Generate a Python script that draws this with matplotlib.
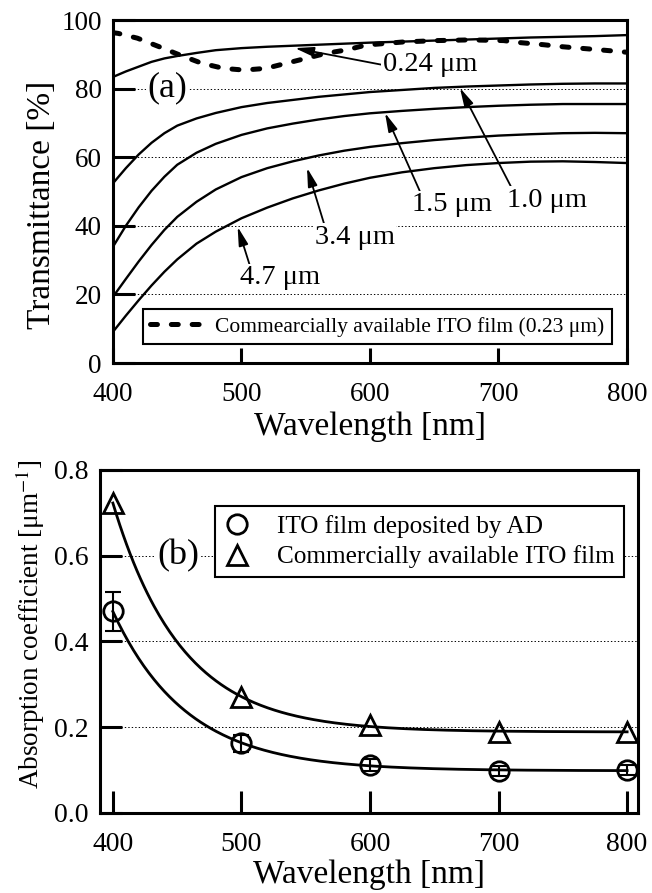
import numpy as np
import matplotlib
matplotlib.use("Agg")
from matplotlib import pyplot as plt

plt.rcParams['font.family'] = ['Liberation Serif', 'DejaVu Serif']
plt.rcParams['mathtext.fontset'] = 'stix'
plt.rcParams['lines.scale_dashes'] = False

# (a) transmittance spectra of AD films
wavelength = [400, 410, 420, 430, 440, 450, 465, 480, 500, 520, 540, 560, 580,
              600, 625, 650, 675, 700, 725, 750, 775, 800]
t_024 = [83.4, 85.0, 86.4, 87.8, 88.8, 89.5, 90.4, 91.2, 91.8, 92.2, 92.5, 92.8, 93.1,
         93.4, 93.7, 94.0, 94.3, 94.6, 94.9, 95.1, 95.3, 95.6]
t_10 = [52.4, 56.8, 60.8, 64.2, 67.0, 69.2, 71.3, 72.9, 74.6, 75.8, 76.7, 77.6, 78.3,
        79.0, 79.6, 80.2, 80.6, 80.9, 81.2, 81.4, 81.5, 81.5]
t_15 = [33.9, 40.0, 45.4, 50.2, 54.3, 57.8, 61.3, 63.9, 66.5, 68.4, 69.8, 71.0, 72.0,
        72.8, 73.5, 74.1, 74.6, 75.0, 75.3, 75.5, 75.5, 75.5]
t_34 = [19.3, 24.5, 29.6, 34.4, 38.8, 42.6, 47.0, 50.6, 54.2, 56.8, 58.8, 60.5, 61.9,
        63.0, 64.1, 65.0, 65.7, 66.3, 66.7, 67.0, 67.1, 67.0]
t_47 = [9.1, 13.8, 18.3, 22.6, 26.6, 30.2, 34.8, 38.3, 42.2, 45.3, 48.0, 50.3, 52.3,
        54.0, 55.6, 56.8, 57.7, 58.3, 58.7, 58.8, 58.6, 58.3]

# commercial ITO film (0.23 um)
wl_comm = [400, 404, 419, 436, 452, 469, 486, 502, 519, 535, 550, 566, 582, 597,
           626, 652, 678, 704, 717, 735, 750, 766, 782, 800]
t_comm = [96.3, 96.1, 94.7, 92.2, 89.8, 87.4, 85.9, 85.4, 85.9, 87.4, 88.8, 90.3, 91.3, 92.7,
          93.6, 94.0, 94.2, 94.0, 93.4, 92.8, 92.2, 91.7, 91.2, 90.6]

thickness_labels = ['0.24 \u03bcm', '1.0 \u03bcm', '1.5 \u03bcm', '3.4 \u03bcm', '4.7 \u03bcm']

# (b) absorption coefficient
wl_abs = [400, 500, 600, 700, 800]
alpha_ad = [0.470, 0.163, 0.112, 0.098, 0.100]
alpha_ad_err = [0.046, 0.020, 0.013, 0.012, 0.012]
alpha_comm = [0.723, 0.270, 0.205, 0.189, 0.189]


def fit_decay(x, y):
    # y = a + b*exp(-(x-x0)/tau), best tau by scan, a/b by least squares
    x = np.asarray(x, float)
    y = np.asarray(y, float)
    best = None
    for tau in np.arange(20, 200, 0.5):
        A = np.column_stack([np.ones_like(x), np.exp(-(x - x[0]) / tau)])
        coef = np.linalg.lstsq(A, y, rcond=None)[0]
        r = np.sum((A @ coef - y) ** 2)
        if best is None or r < best[0]:
            best = (r, tau, coef)
    _, tau, (a, b) = best
    xs = np.linspace(x[0], x[-1], 300)
    return xs, a + b * np.exp(-(xs - x[0]) / tau)


def style_axes(ax, xlen, ylen):
    for s in ax.spines.values():
        s.set_linewidth(2.2)
    ax.tick_params(axis='y', direction='in', length=ylen, width=2.2, labelsize=19.5, pad=8,
                   right=False)
    ax.tick_params(axis='x', direction='in', length=xlen, width=2.2, labelsize=19.5, pad=14,
                   top=False)
    ax.yaxis.grid(True, linestyle=(0, (1, 1.5)), color='black', linewidth=0.7)
    ax.set_axisbelow(True)


fig = plt.figure(figsize=(6.52, 8.93), dpi=100)

# ---- (a)
ax1 = fig.add_axes([0.1733, 0.5935, 0.7883, 0.3841])
for t in [t_024, t_10, t_15, t_34, t_47]:
    ax1.plot(wavelength, t, color='black', lw=1.7, zorder=3)
ax1.plot(wl_comm, t_comm, color='black', lw=3.6, dashes=(5, 10), dash_capstyle='round',
         zorder=4, label='Commearcially available ITO film (0.23 \u03bcm)')
ax1.set_xlim(400, 800)
ax1.set_ylim(0, 100)
ax1.set_xticks([400, 500, 600, 700, 800])
ax1.set_yticks([0, 20, 40, 60, 80, 100])
style_axes(ax1, 11, 16)
ax1.set_xlabel('Wavelength [nm]', fontsize=24)
ax1.set_ylabel('Transmittance [%]', fontsize=24)
ax1.xaxis.set_label_coords(0.5, -0.14)
ax1.yaxis.set_label_coords(-0.108, 0.46)

box = dict(facecolor='white', edgecolor='none', pad=1)
ax1.text(427, 80.2, '(a)', fontsize=26, ha='left', va='center', bbox=box, zorder=5)

# text position, arrow tip, arrow start on text box
notes = [((610, 86.9), (541.6, 91.8), (0.0, 0.5)),
         ((707, 47.5), (670, 80.2), (0.05, 1.0)),
         ((633, 46.1), (611.7, 72.9), (0.1, 1.0)),
         ((557, 36.7), (551, 56.9), (0.12, 1.0)),
         ((499, 24.8), (497, 39.7), (0.12, 1.0))]
for lab, (xy_t, xy_a, rp) in zip(thickness_labels, notes):
    ax1.annotate(lab, xy=xy_a, xytext=xy_t, fontsize=20.5, ha='left', va='center',
                 bbox=box, zorder=6,
                 arrowprops=dict(arrowstyle='-|>,head_length=0.55,head_width=0.14',
                                 color='black', lw=1.3, relpos=rp,
                                 shrinkA=0, shrinkB=0))

leg1 = ax1.legend(loc='lower left', bbox_to_anchor=(0.058, 0.055), fontsize=15.5,
                  handlelength=2.5, handletextpad=0.5, borderpad=0.35,
                  fancybox=False, framealpha=1, edgecolor='black', borderaxespad=0)
leg1.get_frame().set_linewidth(1.5)

# ---- (b)
ax2 = fig.add_axes([0.1534, 0.0896, 0.8252, 0.3841])
xs, ys = fit_decay(wl_abs, alpha_ad)
ax2.plot(xs, ys, color='black', lw=2, zorder=2)
xs, ys = fit_decay(wl_abs, alpha_comm)
ax2.plot(xs, ys, color='black', lw=2, zorder=2)
ax2.errorbar(wl_abs, alpha_ad, yerr=alpha_ad_err, fmt='none', ecolor='black',
             elinewidth=1.5, capsize=6, capthick=1.5, zorder=3)
ax2.plot(wl_abs, alpha_ad, 'o', ms=14, mfc='none', mec='black', mew=2, zorder=4,
         label='ITO film deposited by AD')
ax2.plot(wl_abs, alpha_comm, '^', ms=14, mfc='none', mec='black', mew=2, zorder=4,
         label='Commercially available ITO film')
ax2.set_xlim(390, 808.5)
ax2.set_ylim(0, 0.8)
ax2.set_xticks([400, 500, 600, 700, 800])
ax2.set_yticks([0.0, 0.2, 0.4, 0.6, 0.8])
ax2.yaxis.set_major_formatter(matplotlib.ticker.FormatStrFormatter('%.1f'))
style_axes(ax2, 16, 16)
ax2.tick_params(axis='both', labelsize=20)
ax2.tick_params(axis='y', pad=8)
ax2.set_xlabel('Wavelength [nm]', fontsize=24)
ax2.set_ylabel('Absorption coefficient [\u03bcm$^{-1}$]', fontsize=19.5)
ax2.xaxis.set_label_coords(0.5, -0.135)
ax2.yaxis.set_label_coords(-0.098, 0.55)
ax2.text(435, 0.6, '(b)', fontsize=26, ha='left', va='center', bbox=box, zorder=5)

leg2 = ax2.legend(loc='upper left', bbox_to_anchor=(0.2138, 0.895), fontsize=18.2,
                  handlelength=1.0, handletextpad=1.1, borderpad=0.35, labelspacing=0.3,
                  fancybox=False, framealpha=1, edgecolor='black', borderaxespad=0)
leg2.get_frame().set_linewidth(1.5)

fig.savefig('out.png', dpi=100)
